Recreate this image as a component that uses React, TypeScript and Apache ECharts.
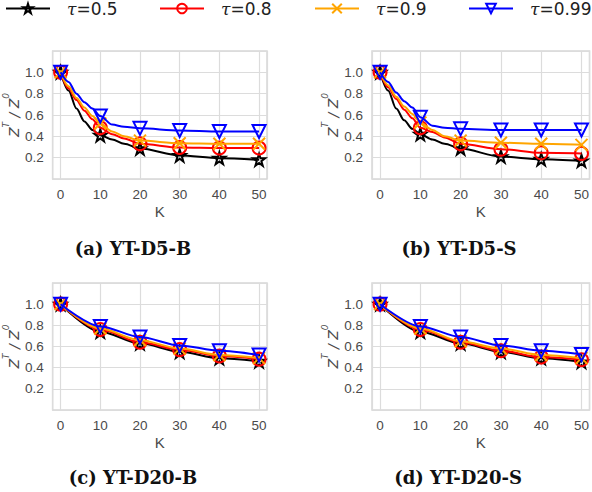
import React, { useEffect, useRef } from 'react';
import * as echarts from 'echarts';

// ---------- data ----------
const tauNames = ['τ=0.5', 'τ=0.8', 'τ=0.9', 'τ=0.99'];
const panelTitles = ['(a) YT-D5-B', '(b) YT-D5-S', '(c) YT-D20-B', '(d) YT-D20-S'];
const kDense = [0, 2, 4, 6, 8, 10, 13, 16, 20, 30, 40, 50];
const kCoarse = [0, 10, 20, 30, 40, 50];

// (a) YT-D5-B
const a05 = [1.0, 0.83, 0.66, 0.54, 0.46, 0.41, 0.37, 0.33, 0.285, 0.22, 0.195, 0.18];
const a08 = [1.0, 0.85, 0.74, 0.64, 0.56, 0.48, 0.42, 0.38, 0.33, 0.295, 0.29, 0.29];
const a09 = [1.0, 0.87, 0.76, 0.67, 0.59, 0.52, 0.445, 0.4, 0.36, 0.335, 0.33, 0.33];
const a099 = [1.0, 0.91, 0.8, 0.72, 0.66, 0.59, 0.51, 0.49, 0.475, 0.455, 0.445, 0.445];

// (b) YT-D5-S
const b05 = [1.0, 0.83, 0.66, 0.55, 0.47, 0.42, 0.37, 0.33, 0.285, 0.21, 0.185, 0.17];
const b08 = [1.0, 0.86, 0.75, 0.65, 0.57, 0.48, 0.44, 0.39, 0.33, 0.28, 0.245, 0.24];
const b09 = [1.0, 0.88, 0.77, 0.68, 0.61, 0.53, 0.46, 0.4, 0.36, 0.34, 0.33, 0.32];
const b099 = [1.0, 0.91, 0.81, 0.73, 0.67, 0.58, 0.5, 0.48, 0.47, 0.46, 0.46, 0.46];

// (c) YT-D20-B
const c05 = [1.0, 0.74, 0.63, 0.55, 0.49, 0.46];
const c08 = [1.0, 0.76, 0.64, 0.57, 0.51, 0.48];
const c09 = [1.0, 0.77, 0.66, 0.58, 0.52, 0.49];
const c099 = [1.0, 0.79, 0.69, 0.61, 0.56, 0.52];

// (d) YT-D20-S
const d05 = [1.0, 0.74, 0.63, 0.55, 0.49, 0.455];
const d08 = [1.0, 0.76, 0.64, 0.56, 0.5, 0.475];
const d09 = [1.0, 0.77, 0.65, 0.58, 0.52, 0.49];
const d099 = [1.0, 0.79, 0.69, 0.61, 0.56, 0.525];

const panelX = [kDense, kDense, kCoarse, kCoarse];
const panelY = [
  [a05, a08, a09, a099],
  [b05, b08, b09, b099],
  [c05, c08, c09, c099],
  [d05, d08, d09, d099],
];

// ---------- styles ----------
const colors = ['#000000', '#ff0000', '#ffa500', '#0000ff'];
const STAR = 'path://M50,2 L61,36 L97,36 L68,57 L79,92 L50,71 L21,92 L32,57 L3,36 L39,36 Z';
const CROSS = 'path://M0,0 L10,10 M10,0 L0,10';
const symbols = [STAR, 'circle', CROSS, 'triangle'];
const symbolRotates = [0, 0, 0, 180];
const symbolSizes = [12, 13, 12, 13];

const grids = [
  { left: 49, top: 51, width: 218, height: 128 },
  { left: 372, top: 51, width: 218, height: 128 },
  { left: 49, top: 283, width: 218, height: 127 },
  { left: 372, top: 283, width: 218, height: 127 },
];
const captionPos = [
  [133, 248],
  [459, 248],
  [133, 477],
  [458, 477],
];
const legendLeft = [5, 159, 314, 468];

const tickFont = { fontFamily: 'Liberation Sans', fontSize: 13.5, color: '#4a4a4a' };

export default function App() {
  const ref = useRef<HTMLDivElement>(null);
  useEffect(() => {
    if (!ref.current) return;
    const chart = echarts.init(ref.current, undefined, { renderer: 'svg' });

    const series: any[] = [];
    panelY.forEach((group, p) => {
      group.forEach((vals, j) => {
        series.push({
          type: 'line',
          name: tauNames[j],
          xAxisIndex: p,
          yAxisIndex: p,
          smooth: 0.3,
          smoothMonotone: 'x',
          symbol: symbols[j],
          symbolSize: symbolSizes[j],
          symbolRotate: symbolRotates[j],
          showAllSymbol: true,
          color: colors[j],
          lineStyle: { color: colors[j], width: 2 },
          itemStyle: { color: 'rgba(0,0,0,0)', borderColor: colors[j], borderWidth: 2 },
          emphasis: { disabled: true },
          z: 2 + j,
          data: panelX[p].map((k, n) =>
            k % 10 === 0 ? { value: [k, vals[n]] } : { value: [k, vals[n]], symbol: 'none' }
          ),
        });
      });
    });

    const option: any = {
      animation: false,
      legend: tauNames.map((nm, j) => ({
        data: [nm],
        left: legendLeft[j],
        top: 0,
        padding: 0,
        itemWidth: 44,
        itemHeight: 12,
        selectedMode: false,
        formatter: (name: string) => `{g| }{t|τ}{n|${name.slice(1)}}`,
        textStyle: {
          rich: {
            g: { width: 12, fontSize: 12 },
            t: { fontFamily: 'DejaVu Serif', fontStyle: 'italic', fontSize: 17, color: '#222' },
            n: { fontFamily: 'DejaVu Sans', fontSize: 17, color: '#222' },
          },
        },
      })),
      grid: grids.map((g) => ({
        ...g,
        show: true,
        borderColor: '#d6d6d6',
        borderWidth: 1.5,
        backgroundColor: 'transparent',
        containLabel: false,
      })),
      xAxis: grids.map((_, i) => ({
        type: 'value',
        gridIndex: i,
        min: -2,
        max: 52,
        splitNumber: 5,
        axisLine: { show: false },
        axisTick: { show: false },
        axisLabel: {
          ...tickFont,
          margin: 8,
          showMinLabel: false,
          showMaxLabel: false,
          formatter: (v: number) => (v % 10 === 0 ? String(v) : ''),
        },
        splitLine: { show: true, lineStyle: { color: '#dcdcdc', width: 1.2 } },
        name: 'K',
        nameLocation: 'middle',
        nameGap: 25,
        nameTextStyle: { ...tickFont, fontSize: 15 },
      })),
      yAxis: grids.map((_, i) => ({
        type: 'value',
        gridIndex: i,
        min: 0,
        max: 1.2,
        interval: 0.2,
        axisLine: { show: false },
        axisTick: { show: false },
        axisLabel: {
          ...tickFont,
          margin: 9,
          formatter: (v: number) => (v > 0.1 && v < 1.1 ? v.toFixed(1) : ''),
        },
        splitLine: { show: true, lineStyle: { color: '#dcdcdc', width: 1.2 } },
        name: '{z|Z}{s|T}{z| / Z}{s|0}',
        nameLocation: 'middle',
        nameGap: 31,
        nameTextStyle: {
          color: '#4a4a4a',
          rich: {
            z: {
              fontFamily: 'DejaVu Sans',
              fontStyle: 'italic',
              fontSize: 14,
              lineHeight: 20,
              color: '#4a4a4a',
              verticalAlign: 'bottom',
            },
            s: {
              fontFamily: 'DejaVu Sans',
              fontStyle: 'italic',
              fontSize: 9,
              color: '#4a4a4a',
              verticalAlign: 'top',
            },
          },
        },
      })),
      graphic: panelTitles.map((t, i) => ({
        type: 'text',
        x: captionPos[i][0],
        y: captionPos[i][1],
        style: {
          text: t,
          align: 'center',
          verticalAlign: 'middle',
          fontFamily: 'DejaVu Serif',
          fontWeight: 'bold',
          fontSize: 18,
          fill: '#111',
        },
      })),
      series,
    };
    chart.setOption(option);
    return () => chart.dispose();
  }, []);
  return (
    <div
      ref={ref}
      style={{ position: 'absolute', left: 0, top: 0, width: 592, height: 492, background: '#fff' }}
    />
  );
}
